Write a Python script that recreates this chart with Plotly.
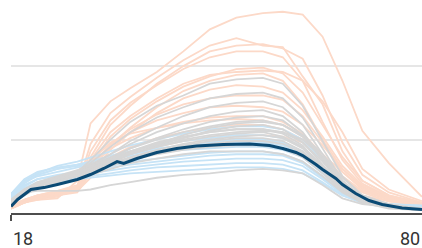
import plotly.graph_objects as go

# Age grid shared by the thin background lines
ages = [18, 20, 22, 25, 28, 30, 33, 36, 40, 44, 48, 52, 56, 59, 62, 65, 68, 71, 75, 80]

orange_series = [
    [4, 8, 9, 10, 22, 61, 76, 85, 96, 110, 125, 133, 136, 137, 135, 120, 90, 56, 34, 11],
    [4, 8, 10, 11, 18, 47, 68, 79, 92, 104, 114, 119, 114, 113, 93, 74, 42, 22, 12, 6],
    [3, 7, 9, 12, 16, 38, 60, 73, 88, 100, 110, 114, 115, 112, 105, 80, 48, 26, 14, 7],
    [5, 9, 11, 13, 18, 42, 63, 75, 87, 98, 106, 110, 110, 106, 90, 62, 36, 20, 11, 6],
    [4, 7, 10, 12, 15, 33, 52, 64, 76, 86, 93, 98, 99, 95, 82, 60, 38, 22, 12, 7],
    [3, 8, 11, 14, 17, 36, 55, 66, 78, 88, 94, 96, 97, 96, 90, 76, 55, 30, 16, 8],
    [4, 9, 12, 13, 15, 29, 46, 58, 72, 83, 90, 94, 95, 90, 74, 50, 30, 18, 10, 6],
    [5, 8, 11, 12, 14, 27, 43, 55, 68, 78, 84, 87, 86, 82, 70, 52, 32, 19, 11, 6],
    [3, 7, 10, 13, 16, 31, 47, 57, 67, 74, 78, 80, 80, 77, 66, 48, 28, 16, 9, 5],
    [4, 8, 11, 14, 17, 32, 46, 55, 63, 68, 72, 73, 72, 69, 60, 46, 30, 18, 10, 6],
    [5, 9, 12, 15, 18, 31, 44, 51, 58, 62, 65, 66, 66, 62, 54, 40, 25, 15, 9, 5],
    [4, 8, 11, 13, 16, 27, 38, 45, 51, 55, 58, 60, 60, 57, 50, 38, 24, 14, 8, 5],
    [3, 7, 10, 12, 15, 24, 34, 40, 45, 49, 51, 53, 53, 52, 48, 40, 28, 17, 9, 6],
    [4, 9, 12, 15, 19, 35, 48, 54, 58, 61, 63, 64, 63, 60, 52, 36, 20, 12, 8, 5],
]

gray_series = [
    [7, 14, 18, 22, 28, 36, 50, 62, 73, 80, 88, 91, 92, 88, 73, 49, 25, 12, 6, 2],
    [8, 15, 19, 23, 28, 34, 45, 55, 65, 72, 78, 81, 82, 78, 65, 44, 22, 10, 5, 2],
    [6, 13, 18, 22, 27, 32, 40, 49, 58, 66, 72, 75, 76, 72, 60, 40, 20, 10, 5, 3],
    [9, 16, 20, 24, 28, 33, 40, 47, 55, 61, 66, 69, 70, 66, 55, 37, 19, 9, 4, 2],
    [7, 14, 19, 23, 27, 31, 37, 44, 51, 57, 62, 65, 66, 63, 53, 36, 18, 9, 5, 3],
    [8, 15, 20, 24, 28, 32, 38, 44, 50, 55, 59, 62, 63, 60, 52, 38, 21, 10, 5, 2],
    [6, 13, 18, 22, 26, 29, 34, 40, 46, 51, 56, 59, 60, 57, 48, 33, 17, 8, 4, 2],
    [9, 16, 21, 25, 29, 32, 37, 42, 47, 51, 55, 57, 57, 55, 48, 35, 19, 9, 5, 3],
    [7, 14, 19, 23, 27, 30, 35, 40, 45, 49, 52, 54, 55, 52, 45, 32, 17, 8, 4, 2],
    [8, 15, 20, 24, 27, 30, 34, 38, 43, 47, 50, 52, 53, 51, 44, 30, 16, 8, 4, 2],
    [6, 12, 17, 21, 25, 28, 33, 37, 42, 46, 49, 51, 51, 49, 42, 29, 15, 7, 4, 2],
    [9, 16, 20, 23, 26, 29, 33, 37, 41, 45, 47, 49, 49, 47, 41, 30, 17, 8, 4, 2],
    [7, 14, 19, 24, 28, 32, 37, 42, 48, 52, 55, 57, 57, 54, 46, 30, 15, 7, 4, 2],
    [8, 15, 19, 22, 25, 28, 32, 36, 40, 43, 45, 46, 46, 44, 38, 27, 15, 7, 4, 2],
    [7, 13, 17, 20, 23, 26, 30, 34, 37, 40, 42, 42, 42, 40, 35, 25, 14, 7, 3, 2],
    [8, 14, 15, 15, 15, 16, 19, 21, 24, 26, 27, 29, 30, 29, 27, 19, 10, 6, 4, 2],
    [8, 14, 18, 23, 27, 31, 36, 41, 47, 53, 58, 61, 62, 60, 53, 40, 24, 12, 6, 3],
    [7, 15, 20, 24, 28, 31, 35, 40, 45, 50, 53, 55, 56, 55, 50, 38, 22, 11, 5, 2],
]

blue_series = [
    [12, 22, 27, 32, 35, 38, 42, 46, 50, 54, 57, 59, 59, 57, 50, 36, 20, 10, 6, 5],
    [11, 20, 26, 30, 33, 35, 39, 42, 46, 49, 51, 53, 53, 51, 45, 32, 18, 10, 6, 4],
    [13, 21, 25, 28, 31, 33, 36, 39, 41, 43, 44, 45, 45, 43, 38, 27, 15, 8, 5, 4],
    [10, 18, 23, 26, 28, 30, 32, 35, 37, 39, 41, 42, 42, 40, 35, 25, 14, 8, 5, 3],
    [12, 19, 23, 25, 27, 29, 31, 33, 35, 37, 39, 40, 40, 39, 34, 24, 13, 7, 5, 4],
    [11, 17, 21, 24, 26, 27, 29, 31, 33, 35, 36, 37, 37, 36, 32, 23, 13, 7, 5, 3],
    [10, 16, 20, 23, 24, 25, 27, 29, 31, 32, 33, 34, 34, 33, 29, 21, 12, 7, 5, 4],
    [13, 23, 28, 31, 33, 35, 38, 41, 44, 46, 47, 48, 48, 46, 40, 28, 15, 8, 5, 4],
    [12, 21, 26, 30, 32, 34, 37, 40, 43, 46, 48, 50, 50, 48, 42, 30, 17, 9, 6, 5],
    [11, 17, 20, 22, 23, 24, 26, 27, 28, 29, 30, 31, 31, 30, 27, 20, 12, 7, 5, 4],
]

highlight_ages = [18, 19, 21, 23, 25, 28, 30, 32, 34, 35, 37, 40, 43, 46, 50, 54, 57,
                  59, 61, 62, 64, 65, 67, 68, 70, 72, 74, 77, 80]
highlight_values = [4.4, 9.2, 16.0, 17.3, 19.4, 22.8, 26.2, 30.3, 35.0, 33.7, 37.1, 41.2,
                    43.9, 45.6, 46.6, 46.9, 45.9, 43.9, 41.2, 39.1, 33.0, 29.6, 23.5,
                    19.4, 13.3, 8.5, 5.8, 3.4, 2.4]

x_tick_labels = ["18", "80"]
grid_values = [50, 100]

fig = go.Figure()

for series, color in ((orange_series, "#fcd9c8"),
                      (blue_series, "#c6e3f6"),
                      (gray_series, "#d6d6d6")):
    for s in series:
        fig.add_trace(go.Scatter(x=ages, y=s, mode="lines",
                                 line=dict(color=color, width=1.8),
                                 hoverinfo="skip", showlegend=False))

fig.add_trace(go.Scatter(x=highlight_ages, y=highlight_values, mode="lines",
                         line=dict(color="#0b4a74", width=3),
                         hoverinfo="skip", showlegend=False))

fig.update_layout(
    width=422, height=248,
    margin=dict(l=11, r=0, t=0, b=35),
    plot_bgcolor="white", paper_bgcolor="white",
    showlegend=False,
    xaxis=dict(range=[18, 80], showgrid=False, zeroline=False,
               showline=True, linecolor="#4d4d4d", linewidth=1.5,
               tickmode="array", tickvals=[18], ticks="outside", ticklen=6,
               tickwidth=1.5, tickcolor="#4d4d4d", showticklabels=False),
    yaxis=dict(range=[0, 145], showgrid=True, gridcolor="#e6e6e6", gridwidth=1.5,
               tickmode="array", tickvals=grid_values, showticklabels=False,
               zeroline=False, showline=False),
    annotations=[
        dict(x=18, xref="x", y=-0.122, yref="paper", text=x_tick_labels[0],
             showarrow=False, xanchor="left", yanchor="middle",
             font=dict(family="Roboto", size=18, color="#333333")),
        dict(x=80, xref="x", y=-0.122, yref="paper", text=x_tick_labels[1],
             showarrow=False, xanchor="right", yanchor="middle",
             font=dict(family="Roboto", size=18, color="#333333")),
    ],
)

fig.write_html("out.html", config={"displayModeBar": False},
               post_script="document.body.style.margin='0';document.body.style.overflow='hidden';")
